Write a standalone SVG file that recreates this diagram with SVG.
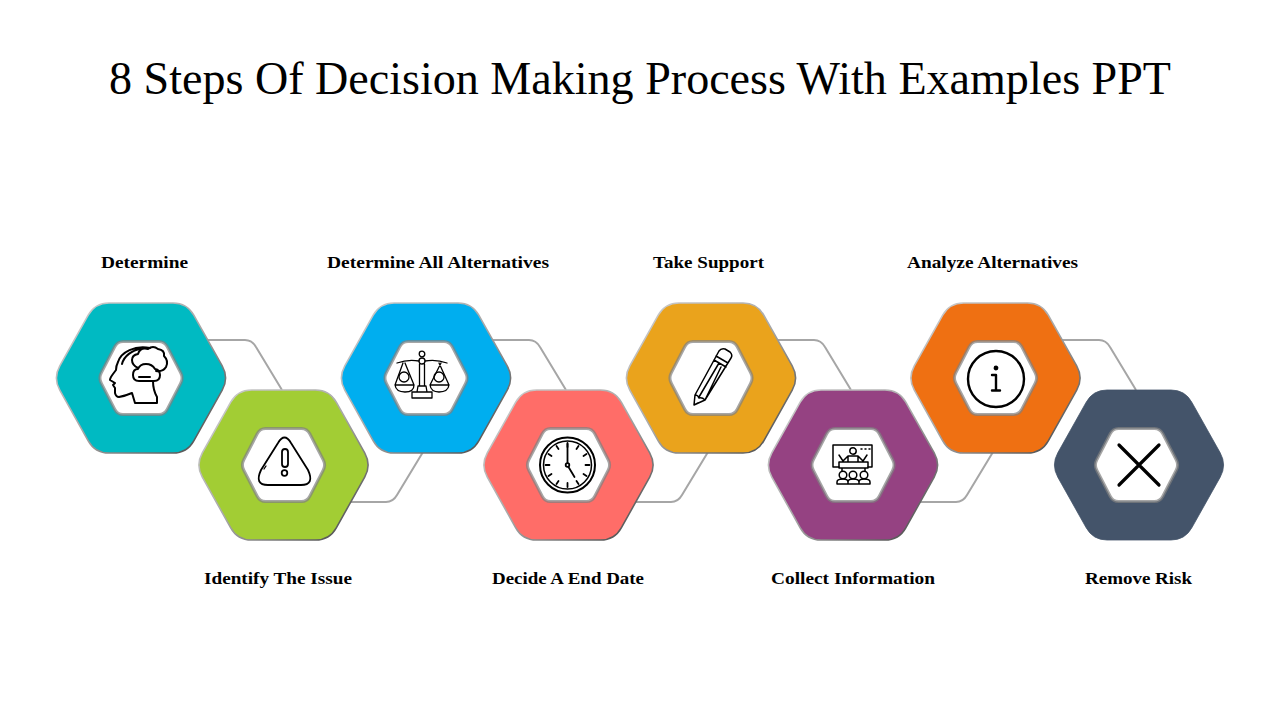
<svg xmlns="http://www.w3.org/2000/svg" width="1280" height="720" viewBox="0 0 1280 720">
<style>
.t{font-family:"Liberation Serif","DejaVu Serif",serif;fill:#000}
.title{font-size:46px}
.lab{font-size:17px;font-weight:700;text-anchor:middle}
.conn{fill:none;stroke:#a6a6a6;stroke-width:2}
.ic{fill:none;stroke:#000;stroke-width:1.8;stroke-linecap:round;stroke-linejoin:round}
.in{fill:#fff;stroke:#808080;stroke-opacity:.7;stroke-width:3}
.out{stroke:url(#edge);stroke-width:1.6}
</style>
<defs>
<linearGradient id="edge" x1="0" y1="0" x2="1" y2="1"><stop offset="0" stop-color="#d0d0d0"/><stop offset=".5" stop-color="#a8a8a8"/><stop offset="1" stop-color="#404040"/></linearGradient>
<path id="hexO" d="M-81.200-12.200L-52.800-62.800Q-46-75-32-75H32Q46-75 52.800-62.800L81.200-12.200Q88 0 81.200 12.200L52.800 62.800Q46 75 32 75H-32Q-46 75-52.800 62.800L-81.200 12.200Q-88 0-81.200-12.200Z"/>
<path id="hexI" d="M-39.700-5.300L-26.300-31.200Q-23.500-36.500-18-36.500H18Q23.500-36.500 26.300-31.200L39.700-5.300Q42.500 0 39.700 5.300L26.300 31.200Q23.500 36.500 18 36.500H-18Q-23.500 36.500-26.300 31.200L-39.700 5.300Q-42.500 0-39.700-5.300Z"/>
</defs>
<text class="t title" x="109" y="94" textLength="1062" lengthAdjust="spacingAndGlyphs">8 Steps Of Decision Making Process With Examples PPT</text>
<g id="connectors">
<path class="conn" d="M205 340H245Q252 340 256 347L282 390"/>
<path class="conn" d="M490 340H529Q536 340 540 347L566 390"/>
<path class="conn" d="M775 340H814Q821 340 825 347L851 390"/>
<path class="conn" d="M1060 340H1099Q1106 340 1110 347L1136 390"/>
<path class="conn" d="M350 502H386Q393 502 397 495L423 452"/>
<path class="conn" d="M635 502H671Q678 502 682 495L708 452"/>
<path class="conn" d="M920 502H956Q963 502 967 495L993 452"/>
</g>
<g id="node1"><use href="#hexO" x="141" y="378" fill="#00bac2" class="out"/><use href="#hexI" x="141" y="378" class="in"/>
<g class="ic" style="stroke-width:2"><path d="M135 403L132 393Q125 396 119 397Q116 397 115 393L115 388L113 385L115 383L110 380Q110 378 113 374L116 370Q116 366 118 362C121 352 135 345 150 348M122 364C124 356 132 350 141 349M153 381Q153 390 157 397V403H135"/><path d="M143 381H139Q133 381 133 375Q133 369 138 369Q140 364 146 364Q152 364 155 369Q160 370 160 375Q160 381 154 381ZM139 377H150"/><path d="M138 368Q132 365 132 360Q132 355 138 354Q140 347 148 349Q153 345 158 349Q165 350 164 356Q169 361 166 367Q163 372 156 371"/></g></g>
<g id="node2"><use href="#hexO" x="283.500" y="465" fill="#a2cd34" class="out"/><use href="#hexI" x="283.500" y="465" class="in"/>
<g class="ic"><path d="M278 443Q284.500 432 291 443L308 470Q315 485 301 485H268Q254 485 261 470Z"/><path d="M282 452Q282 449 285 449Q288 449 288 452V464Q288 467 285 467Q282 467 282 464Z"/><circle cx="284.500" cy="473" r="2.800"/><path d="M264 469L266 466" style="stroke-width:1.300"/></g></g>
<g id="node3"><use href="#hexO" x="426" y="378" fill="#00aeef" class="out"/><use href="#hexI" x="426" y="378" class="in"/>
<g class="ic" style="stroke-width:1.300" transform="translate(422 376)"><circle cx="0" cy="-22" r="2.800"/><circle cx="0" cy="-15" r="3"/><path d="M-25-13Q-14-17-3-15M3-15Q14-17 25-13M-2.500-12V10H2.500V-12M-4 10H4L5 16H-5ZM-10 16H10V22H-10ZM-19-13L-27 9H-8L-17-13M19-13L8 9H27L17-13M-27 9Q-26 16-17 16Q-8 16-8 9M8 9Q9 16 17 16Q26 16 27 9"/><circle cx="-18" cy="1" r="5"/><circle cx="17" cy="1" r="5"/></g></g>
<g id="node4"><use href="#hexO" x="568.500" y="465" fill="#ff6d68" class="out"/><use href="#hexI" x="568.500" y="465" class="in"/>
<g class="ic" transform="translate(567.500 465)"><circle r="27.500" style="stroke-width:2"/><circle r="24" style="stroke-width:1.500"/><circle r="1.800"/><path d="M0-2V-21M1 2L7 12"/><path d="M0-22V-18M0 18V22M-22 0H-18M18 0H22M11-19L9-16M19-11L16-9M19 11L16 9M11 19L9 16M-11 19L-9 16M-19 11L-16 9M-19-11L-16-9M-11-19L-9-16"/></g></g>
<g id="node5"><use href="#hexO" x="711" y="378" fill="#eaa31c" class="out"/><use href="#hexI" x="711" y="378" class="in"/>
<g class="ic" style="stroke-width:1.500" transform="translate(710 378)"><path d="M-16 27L-15 17L9-27Q11-30 15-29L20-26Q23-23 21-20L-5 22ZM-15 17Q-12 17-11 20Q-8 19-5 22M-12 25L-16 27M6-22L18-15M4-18L16-11M-11 19L9-15M-5 22L11-11"/></g></g>
<g id="node6"><use href="#hexO" x="853" y="465" fill="#954282" class="out"/><use href="#hexI" x="853" y="465" class="in"/>
<g class="ic" style="stroke-width:1.500" transform="translate(853 465)"><path d="M-14 2H-20V-20H19V2H15M8-16H9M12-16H13M16-16H17"/><circle cx="0" cy="-14" r="3.200"/><path d="M-14-10L-10-4L-5-9H5L10-4L14-10M-5-9V-3M5-9V-3M-14-3H15V3H-14ZM-11 3V6M12 3V6"/><circle cx="-10" cy="10" r="3.800"/><circle cx="0" cy="10" r="3.800"/><circle cx="11" cy="10" r="3.800"/><path d="M-16 19V17Q-16 14-10 14Q-5 14-5 17V19ZM-5 19V17Q-5 14 0 14Q6 14 6 17V19ZM6 19V17Q6 14 11 14Q17 14 17 17V19Z"/></g></g>
<g id="node7"><use href="#hexO" x="995.500" y="378" fill="#ef7012" class="out"/><use href="#hexI" x="995.500" y="378" class="in"/>
<g class="ic" transform="translate(996 379)"><circle r="28" style="stroke-width:2.400"/><circle cx="0" cy="-11" r="1.500" style="fill:#000"/><path d="M-4-4H0V11M-4 11.500H4" style="stroke-width:2.400"/></g></g>
<g id="node8"><use href="#hexO" x="1139" y="465" fill="#44546a" stroke="#44546a" stroke-width=".8"/><use href="#hexI" x="1136.500" y="465" class="in"/>
<path class="ic" style="stroke-width:3.200" d="M1119 445L1159 485M1159 445L1119 485"/></g>
<text class="t lab" x="144.500" y="268" textLength="87" lengthAdjust="spacingAndGlyphs">Determine</text>
<text class="t lab" x="438" y="268" textLength="222" lengthAdjust="spacingAndGlyphs">Determine All Alternatives</text>
<text class="t lab" x="708.500" y="268" textLength="111" lengthAdjust="spacingAndGlyphs">Take Support</text>
<text class="t lab" x="992.500" y="268" textLength="171" lengthAdjust="spacingAndGlyphs">Analyze Alternatives</text>
<text class="t lab" x="278" y="584" textLength="148" lengthAdjust="spacingAndGlyphs">Identify The Issue</text>
<text class="t lab" x="568" y="584" textLength="152" lengthAdjust="spacingAndGlyphs">Decide A End Date</text>
<text class="t lab" x="853" y="584" textLength="164" lengthAdjust="spacingAndGlyphs">Collect Information</text>
<text class="t lab" x="1138.500" y="584" textLength="107" lengthAdjust="spacingAndGlyphs">Remove Risk</text>
</svg>
